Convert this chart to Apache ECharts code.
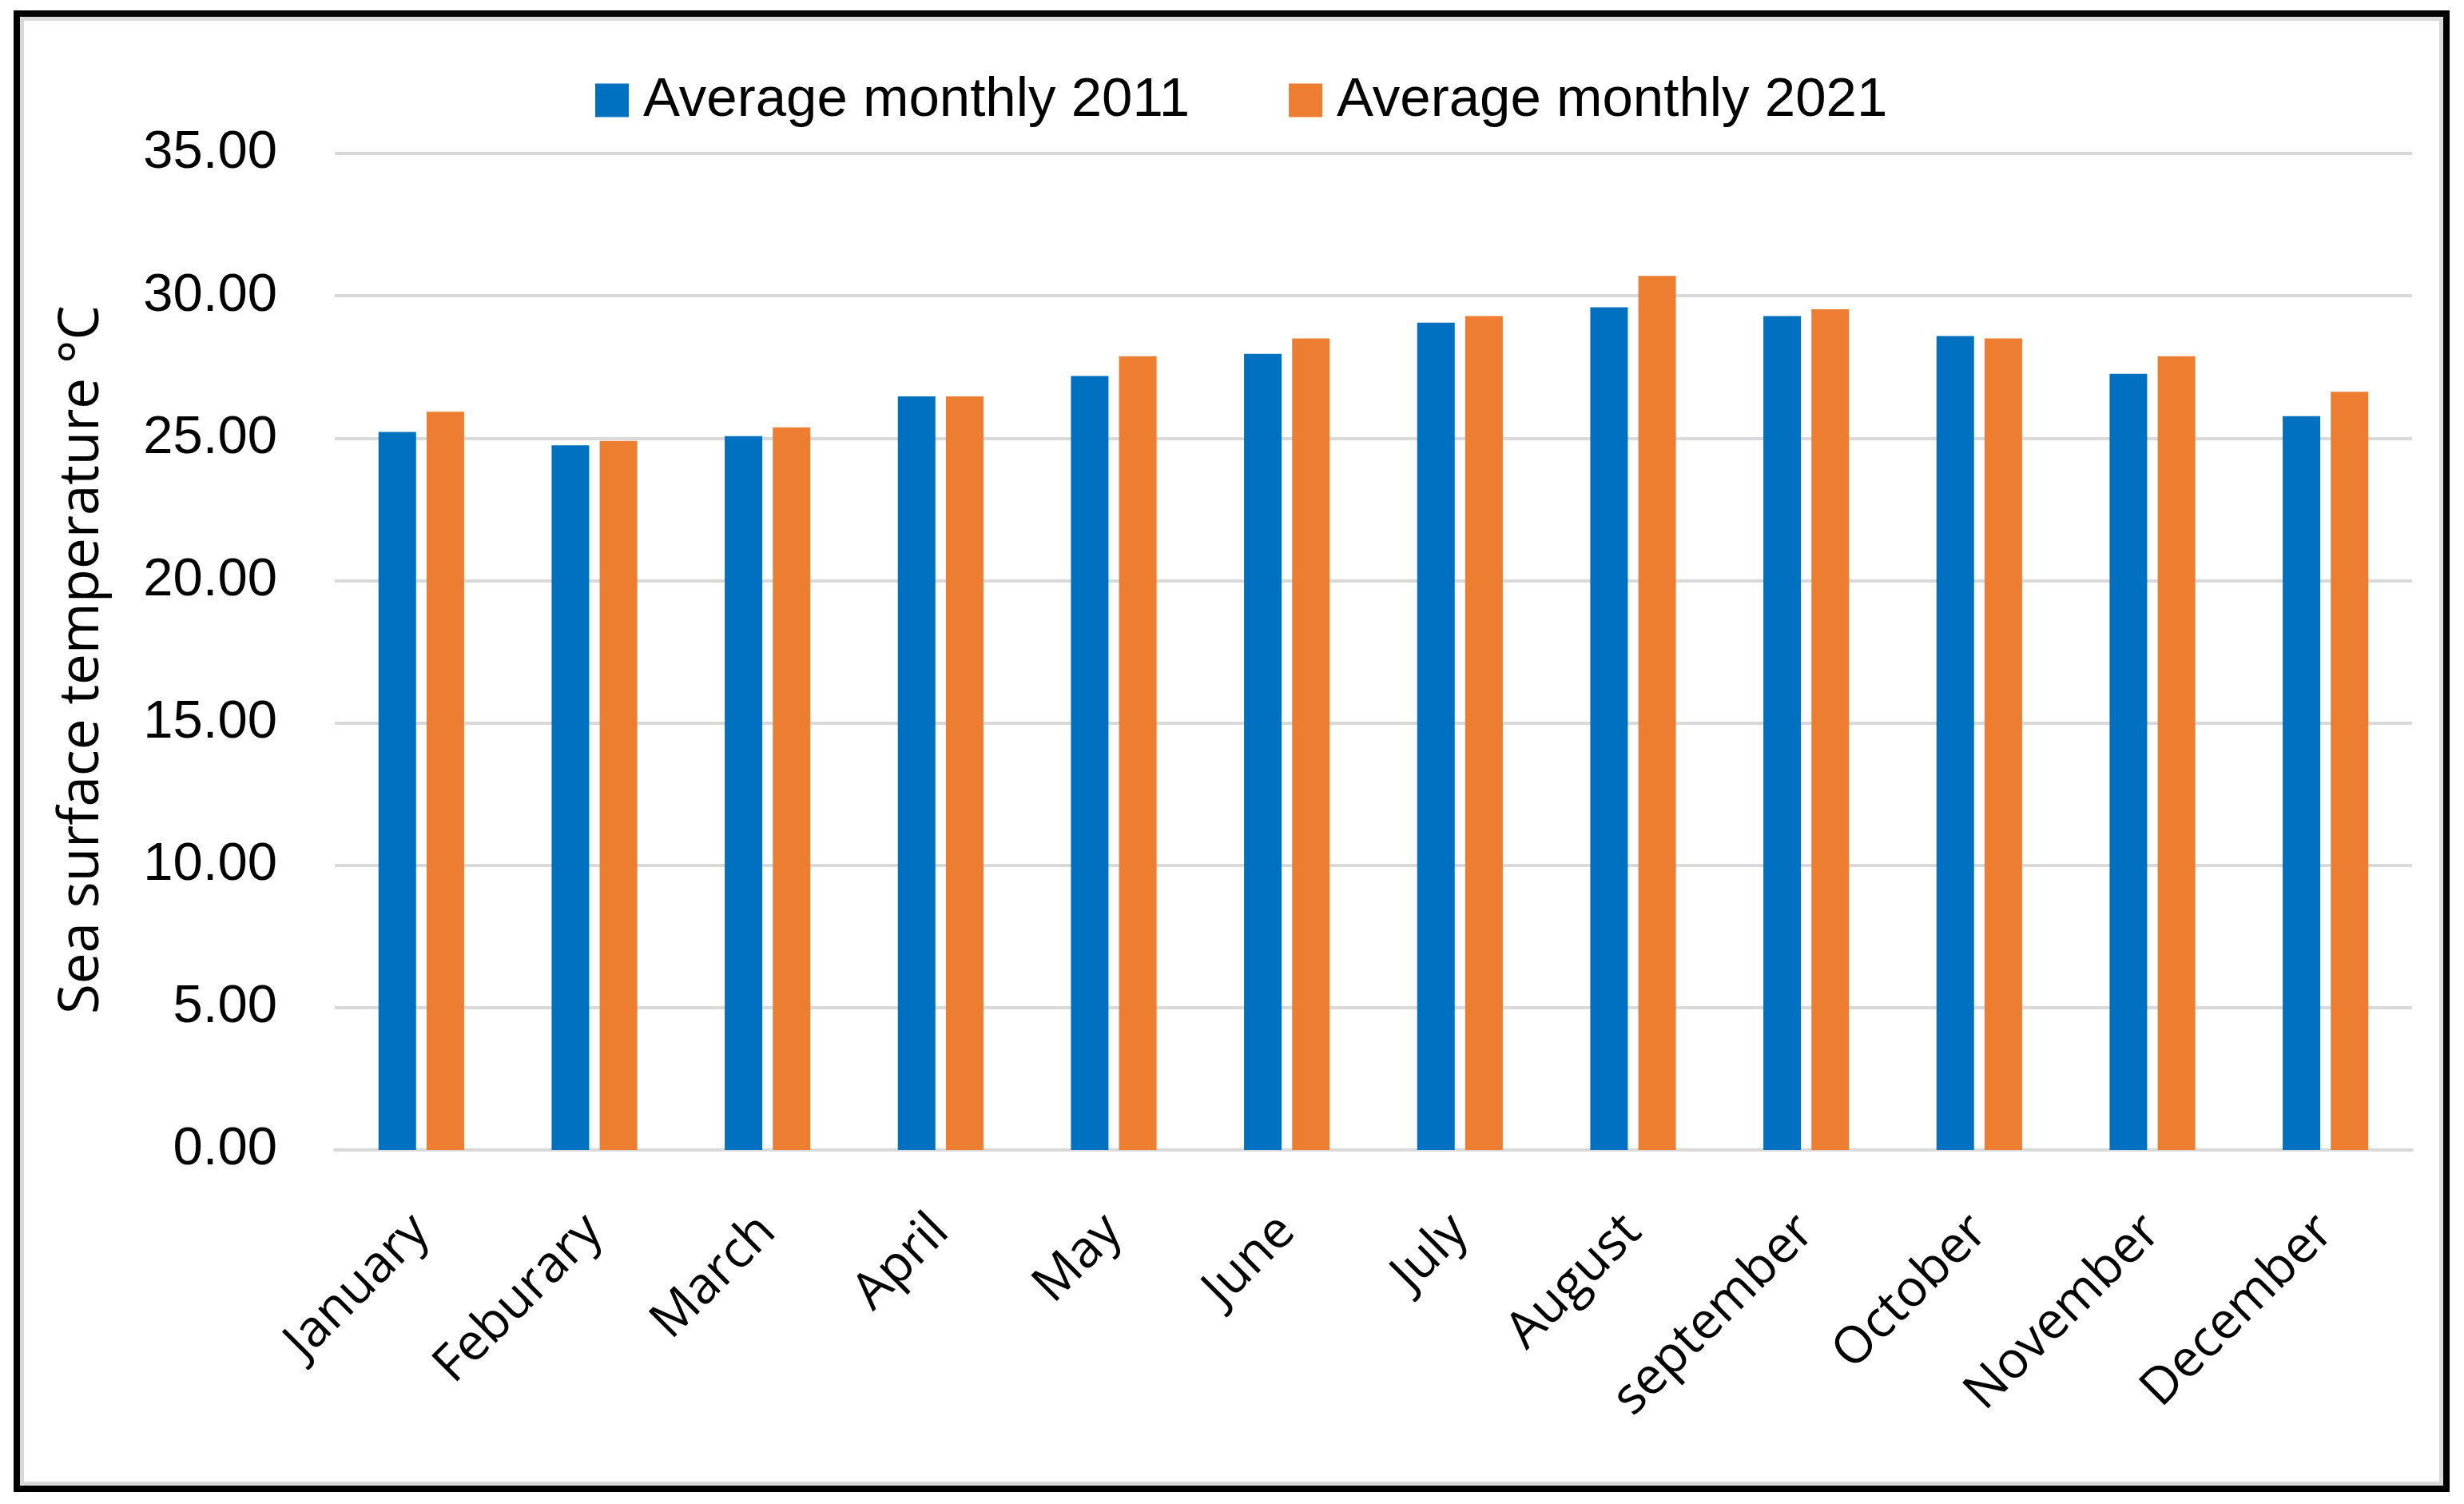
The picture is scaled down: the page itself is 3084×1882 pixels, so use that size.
<!DOCTYPE html>
<html>
<head>
<meta charset="utf-8">
<script src="https://cdn.jsdelivr.net/npm/echarts@6/dist/echarts.min.js"></script>
<style>
html,body{margin:0;padding:0;background:#fff;}
#chart{width:3084px;height:1882px;}
</style>
</head>
<body>
<div id="chart"></div>
<script>
const categories = ['January','Feburary','March','April','May','June','July','August','september','October','November','December'];
const series2011 = [25.22, 24.75, 25.07, 26.47, 27.18, 27.96, 29.06, 29.60, 29.29, 28.59, 27.26, 25.77];
const series2021 = [25.93, 24.90, 25.38, 26.47, 27.88, 28.50, 29.29, 30.70, 29.53, 28.50, 27.88, 26.63];
const seriesNames = ['Average monthly 2011', 'Average monthly 2021'];
const yTicks = {min: 0, max: 35, interval: 5};
const yAxisTitle = 'Sea surface temperature °C';

const chart = echarts.init(document.getElementById('chart'));
chart.setOption({
  backgroundColor: '#ffffff',
  animation: false,
  graphic: [
    {type:'rect', shape:{x:21, y:17, width:3041, height:1846}, style:{fill:'none', stroke:'#000', lineWidth:8}, z:100},
    {type:'rect', shape:{x:27.5, y:23.5, width:3028, height:1833}, style:{fill:'none', stroke:'#d9d9d9', lineWidth:5}, z:99}
  ],
  legend: {
    left: 740, top: 86,
    itemWidth: 42, itemHeight: 42, itemGap: 124,
    icon: 'rect',
    textStyle: {fontFamily: 'Liberation Sans, Arial', fontSize: 69, color: '#000', padding:[0,0,0,13]},
    data: seriesNames
  },
  grid: {left: 419, right: 65, top: 192, bottom: 443, containLabel: false},
  xAxis: {
    type: 'category',
    data: categories,
    axisTick: {show: false},
    axisLine: {lineStyle: {color: '#d9d9d9', width: 4}},
    axisLabel: {rotate: 45, margin: 92, fontFamily: 'Open Sans', fontSize: 64, color: '#000', interval: 0}
  },
  yAxis: {
    type: 'value',
    min: yTicks.min, max: yTicks.max, interval: yTicks.interval,
    name: yAxisTitle,
    nameLocation: 'middle',
    nameRotate: 90,
    nameGap: 281,
    nameTextStyle: {fontFamily: 'Open Sans', fontSize: 69, color: '#000', padding: [0, 20, 0, 0]},
    axisLine: {show: false},
    axisTick: {show: false},
    splitLine: {lineStyle: {color: '#d9d9d9', width: 4}},
    axisLabel: {margin: 72, fontFamily: 'Liberation Sans, Arial', fontSize: 67, color: '#000',
      formatter: v => v.toFixed(2)}
  },
  series: [
    {name: seriesNames[0], type: 'bar', data: series2011, barWidth: 47, barGap: '28%', itemStyle: {color: '#0070C0'}},
    {name: seriesNames[1], type: 'bar', data: series2021, barWidth: 47, barGap: '28%', itemStyle: {color: '#ED7D31'}}
  ]
});
</script>
</body>
</html>
